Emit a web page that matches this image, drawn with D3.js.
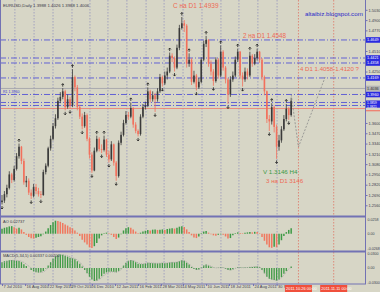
<!DOCTYPE html>
<html><head><meta charset="utf-8">
<script src="https://cdn.jsdelivr.net/npm/d3@7"></script>
<style>html,body{margin:0;padding:0;background:#d7d6c6;}svg{display:block;font-family:"Liberation Sans",Arial,sans-serif;}</style>
</head><body><svg id="c" width="380" height="292"></svg>
<script>
// ---- price bars (x1e4), one bar ~ 3 trading days ----
const opens=[12600,12620,12700,12780,12950,12880,13020,13180,13300,13120,12850,12870,12720,12680,12790,12740,12700,12690,12980,13060,13280,13400,13560,13660,13880,13930,14000,13800,13900,13820,14180,14050,13800,13680,13560,13700,13400,13200,13000,13250,13400,13270,13260,13390,13200,13140,13330,13100,12930,13350,13450,13600,13700,13680,13790,13580,13500,13460,13680,13800,13820,14000,13900,13950,13900,14000,14180,14100,14200,14250,14450,14420,14300,14550,14800,14860,14830,14350,14400,14120,14200,14050,14120,14400,14600,14650,14350,14250,14130,14400,14200,14500,14300,14150,13960,14150,14200,14400,14500,14200,14150,14250,14200,14450,14350,14420,14500,14400,14180,14000,13650,13620,13800,13550,13300,13380,13520,13650,13780,13700];
const closes=[12620,12700,12780,12950,12880,13020,13180,13300,13120,12850,12870,12720,12680,12790,12740,12700,12690,12980,13060,13280,13400,13560,13660,13880,13930,14000,13800,13900,13820,14180,14050,13800,13680,13560,13700,13400,13200,13000,13250,13400,13270,13260,13390,13200,13140,13330,13100,12930,13350,13450,13600,13700,13680,13790,13580,13500,13460,13680,13800,13820,14000,13900,13950,13900,14000,14180,14100,14200,14250,14450,14420,14300,14550,14800,14860,14830,14350,14400,14120,14200,14050,14120,14400,14600,14650,14350,14250,14130,14400,14200,14500,14300,14150,13960,14150,14200,14400,14500,14200,14150,14250,14200,14450,14350,14420,14500,14400,14180,14000,13650,13620,13800,13550,13300,13380,13520,13650,13780,13700,13880];
const highs=[12690,12740,12820,12990,12970,13060,13220,13340,13310,13150,12930,12900,12760,12830,12830,12780,12740,13010,13090,13300,13440,13600,13710,13920,13990,14040,14020,13960,13930,14280,14200,14080,13830,13720,13740,13720,13420,13230,13290,13440,13420,13330,13440,13400,13250,13370,13340,13120,13380,13490,13640,13750,13740,13860,13800,13610,13520,13710,13840,13870,14050,14020,14000,13980,14040,14220,14200,14250,14300,14490,14480,14440,14590,14840,14939,14900,14850,14480,14420,14260,14220,14170,14430,14640,14700,14660,14390,14280,14430,14420,14580,14520,14320,14170,14190,14250,14440,14540,14510,14240,14300,14290,14500,14470,14470,14540,14510,14420,14200,14010,13700,13850,13820,13580,13450,13560,13700,13840,13800,13920];
const lows=[12570,12590,12660,12760,12840,12860,13000,13150,13080,12820,12790,12690,12640,12660,12700,12670,12650,12680,12950,13040,13250,13380,13530,13640,13850,13900,13760,13780,13780,13800,14000,13760,13650,13520,13540,13370,13150,12970,12990,13230,13240,13220,13240,13170,13100,13120,13060,12870,12910,13320,13430,13580,13640,13660,13540,13470,13430,13440,13660,13770,13800,13860,13870,13740,13870,13980,14060,14080,14150,14230,14370,14250,14280,14520,14780,14750,14300,14310,14080,14100,14010,14030,14100,14380,14560,14310,14200,14070,14110,14160,14180,14260,14100,13840,13930,14120,14180,14370,14160,14060,14120,14150,14180,14310,14330,14390,14360,14140,13950,13600,13500,13580,13480,13146,13250,13350,13500,13620,13640,13680];
// fractal markers (bar indices)
const upFractals=[7,25,29,39,42,53,60,69,74,77,84,90,97,102,105,111,117];
const downFractals=[0,12,16,26,28,33,37,41,44,47,56,63,66,71,80,87,93,99,110,113,118];
// Awesome Oscillator (x1e4)
const aoValues=[90,110,120,135,140,120,95,110,80,30,-20,-60,-85,-90,-75,-60,-45,-10,40,100,160,210,240,235,220,200,170,150,120,100,60,20,-40,-110,-160,-200,-250,-265,-230,-170,-90,-30,10,20,10,-20,-60,-95,-70,-10,60,100,120,110,80,40,10,20,40,55,70,60,75,80,70,75,80,70,85,95,100,95,110,130,140,125,80,30,-30,-70,-80,-50,10,40,50,20,-10,-30,-35,-20,-10,-20,-50,-90,-80,-30,10,25,15,10,20,25,30,25,35,30,10,-60,-130,-200,-250,-260,-240,-250,-200,-120,-40,30,70,100];
// MACD histogram and signal (x1e4)
const macdValues=[120,140,150,160,165,160,150,145,120,80,40,0,-40,-70,-90,-95,-90,-60,-10,50,120,190,240,270,280,275,255,235,210,200,180,140,90,30,-40,-110,-180,-240,-270,-260,-220,-170,-120,-90,-80,-70,-80,-90,-60,-10,50,110,150,165,150,120,90,80,85,95,110,105,100,100,95,100,105,100,105,115,120,115,125,140,160,150,110,70,20,-20,-40,-30,10,50,70,50,25,5,0,5,15,5,-15,-40,-45,-25,0,15,10,5,10,10,20,20,25,30,15,-40,-110,-180,-220,-240,-250,-260,-240,-190,-120,-60,0,30];
const signalValues=[100,115,130,145,155,160,158,152,140,115,80,40,0,-35,-65,-85,-90,-80,-50,0,60,130,190,235,260,272,265,250,230,212,195,165,120,65,0,-70,-140,-200,-245,-260,-240,-200,-150,-110,-90,-78,-78,-85,-72,-35,20,80,130,155,155,135,105,88,85,92,105,106,102,100,97,99,103,101,104,112,118,116,122,135,152,152,122,85,35,-5,-30,-30,-5,35,60,55,35,12,3,4,12,8,-8,-30,-42,-32,-8,10,10,6,8,10,17,19,23,28,20,-20,-85,-155,-205,-230,-245,-255,-245,-205,-145,-80,-20,15];
// axis labels
const dateLabels=["7 Jul 2010","16 Aug 2010","22 Sep 2010","29 Oct 2010","6 Dec 2010","12 Jan 2011","16 Feb 2011","28 Mar 2011","4 May 2011","10 Jun 2011","18 Jul 2011","24 Aug 2011","30 Sep 2011"];
const dateBars=[0,9.5,19,28,37,46.5,56,65.4,74.5,84,93.4,103.3,113];
const gridBars=[5.3,13.2,21,28.8,36.2,43.6,51.4,59.3,66.7,74.5,82.3,90.1,97.5,105.3,113.2];
const priceTicks=[1.5030,1.4900,1.4770,1.4640,1.4510,1.4380,1.4250,1.4120,1.3990,1.3860,1.3730,1.3600,1.3470,1.3340,1.3210,1.3080,1.2950,1.2820,1.2690,1.2560];
// horizontal price levels
const blueLevels=[1.4649,1.4421,1.4358,1.4169,1.3960];
const bluePair=[1.3859,1.3821];
const greyLevel=1.4036;
const redLevel=1.3783;
// projection path & future time markers
const projBars=[119,122,133];
const projPrices=[1.3960,1.3297,1.4181];
const futureBars=[122,136.5];
const futureLabels=["2011.10.26 00:00","2011.11.11 00:00"];

const svg=d3.select("#c");
const x=d3.scaleLinear().domain([0,150]).range([2,366.5]);
const y=d3.scaleLinear().domain([1.2450,1.5154]).range([214,0]);
const yAO=d3.scaleLinear().domain([-0.0300,0.0290]).range([250,218]);
const yM=d3.scaleLinear().domain([-0.0310,0.0310]).range([283,253]);
const AX="#7272b4", BULL="#3a3a3a", BEAR="#f2705c", GREEN="#3f9a45", RED="#f0785e";
const f4=d3.format(".4f");

svg.append("rect").attr("width",380).attr("height",292).attr("fill","#d7d6c6");
const defs=svg.append("defs");
defs.append("clipPath").attr("id","cm").append("rect").attr("x",0).attr("y",0).attr("width",365).attr("height",215);
defs.append("clipPath").attr("id","cd").append("rect").attr("x",0).attr("y",284).attr("width",x(futureBars[0])-13.5).attr("height",8);

// vertical grid
svg.append("g").selectAll("line").data(gridBars).join("line")
  .attr("x1",d=>x(d)).attr("x2",d=>x(d)).attr("y1",0).attr("y2",284)
  .attr("stroke","#8c8cbc").attr("stroke-width",0.7).attr("stroke-dasharray","1.5,1.5");
// future red dotted lines
svg.append("g").selectAll("line").data(futureBars).join("line")
  .attr("x1",d=>x(d)).attr("x2",d=>x(d)).attr("y1",0).attr("y2",284)
  .attr("stroke","#e06a5a").attr("stroke-width",0.7).attr("stroke-dasharray","1.5,1.5");

const main=svg.append("g").attr("clip-path","url(#cm)");
main.selectAll("line.bl").data(blueLevels.concat(bluePair)).join("line").attr("class","bl")
  .attr("x1",0).attr("x2",365).attr("y1",d=>y(d)).attr("y2",d=>y(d))
  .attr("stroke","#4444d8").attr("stroke-width",0.8).attr("stroke-dasharray","6,2,1,2");
main.append("line").attr("x1",0).attr("x2",365).attr("y1",y(greyLevel)).attr("y2",y(greyLevel))
  .attr("stroke","#a0a0a8").attr("stroke-width",0.8);
main.append("line").attr("x1",0).attr("x2",365).attr("y1",y(redLevel)).attr("y2",y(redLevel))
  .attr("stroke","#f07a6a").attr("stroke-width",0.8);

// candles
const idx=d3.range(closes.length);
const col=i=>closes[i]>=opens[i]?BULL:BEAR;
main.selectAll("line.w").data(idx).join("line").attr("class","w")
  .attr("x1",i=>x(i)).attr("x2",i=>x(i)).attr("y1",i=>y(highs[i]/1e4)).attr("y2",i=>y(lows[i]/1e4))
  .attr("stroke",col).attr("stroke-width",0.8);
main.selectAll("rect.b").data(idx).join("rect").attr("class","b")
  .attr("x",i=>x(i)-0.8).attr("width",1.6)
  .attr("y",i=>y(Math.max(opens[i],closes[i])/1e4))
  .attr("height",i=>Math.max(0.6,Math.abs(y(opens[i]/1e4)-y(closes[i]/1e4))))
  .attr("fill",col);
// fractals
main.selectAll("path.fu").data(upFractals).join("path").attr("class","fu")
  .attr("d",i=>{const cx=x(i),cy=y(highs[i]/1e4)-4.5;return `M${cx-1.3},${cy+1.4}L${cx},${cy}L${cx+1.3},${cy+1.4}M${cx},${cy}L${cx},${cy+3}`;})
  .attr("stroke","#202020").attr("stroke-width",0.8).attr("fill","none");
main.selectAll("path.fd").data(downFractals).join("path").attr("class","fd")
  .attr("d",i=>{const cx=x(i),cy=y(lows[i]/1e4)+4.5;return `M${cx-1.3},${cy-1.4}L${cx},${cy}L${cx+1.3},${cy-1.4}M${cx},${cy}L${cx},${cy-3}`;})
  .attr("stroke","#202020").attr("stroke-width",0.8).attr("fill","none");
// projection
main.append("path").attr("d",d3.line().x((d,k)=>x(projBars[k])).y(d=>y(d))(projPrices))
  .attr("fill","none").attr("stroke","#8a8a8a").attr("stroke-width",0.8).attr("stroke-dasharray","2,1.5");

// annotations
const T=(tx,ty,s,fs,c)=>svg.append("text").attr("x",tx).attr("y",ty).attr("font-size",fs).attr("fill",c).text(s);
T(3,6.5,"EURUSD,Daily  1.3988 1.4026 1.3988 1.4006",4.3,"#383848");
T(173,7.5,"C на D1 1.4939",6.5,"#ee6a55");
T(305,15.5,"altaibiz.blogspot.com",6.2,"#2a2ac8");
T(243,37.5,"2 на D1 1.4548",6.3,"#ee6a55");
T(300,71,"4 D1 1.4058-1.4120 ?",6.1,"#ee6a55");
T(263,173.5,"V 1.3146 Н4",6.2,"#3a9a45");
T(266,182.5,"3 на D1 3146",6.2,"#ee6a55");
T(3,93.2,"R1 1.3960",3.6,"#3a3ad0");

// panel frames
svg.append("line").attr("x1",0).attr("x2",365).attr("y1",216.5).attr("y2",216.5).attr("stroke",AX).attr("stroke-width",2);
svg.append("line").attr("x1",0).attr("x2",365).attr("y1",251.5).attr("y2",251.5).attr("stroke",AX).attr("stroke-width",2);
svg.append("line").attr("x1",0).attr("x2",366).attr("y1",284).attr("y2",284).attr("stroke",AX).attr("stroke-width",1);
svg.append("line").attr("x1",365.5).attr("x2",365.5).attr("y1",0).attr("y2",284).attr("stroke",AX).attr("stroke-width",1);
svg.append("line").attr("x1",0.5).attr("x2",0.5).attr("y1",0).attr("y2",284).attr("stroke",AX).attr("stroke-width",1);

// AO
svg.append("g").selectAll("line").data(idx).join("line")
  .attr("x1",i=>x(i)).attr("x2",i=>x(i)).attr("y1",yAO(0)).attr("y2",i=>yAO(aoValues[i]/1e4))
  .attr("stroke",i=>(i===0||aoValues[i]>=aoValues[i-1])?GREEN:RED).attr("stroke-width",1.5);
T(3,222.5,"AO 0.02737",4,"#383848");
// MACD
svg.append("g").selectAll("line").data(idx).join("line")
  .attr("x1",i=>x(i)).attr("x2",i=>x(i)).attr("y1",yM(0)).attr("y2",i=>yM(macdValues[i]/1e4))
  .attr("stroke",GREEN).attr("stroke-width",1.3);
svg.append("path").attr("d",d3.line().x((d,i)=>x(i)).y(d=>yM(d/1e4))(signalValues))
  .attr("fill","none").attr("stroke","#9a9a9a").attr("stroke-width",0.8).attr("stroke-dasharray","1,1");
T(3,257,"MACD(5,34,5) 0.00337 0.00202",4,"#383848");

// right price axis (labels hidden under level boxes are skipped)
const levelYs=blueLevels.concat(bluePair,[greyLevel,redLevel]).map(v=>y(v));
const visTicks=priceTicks.filter(t=>levelYs.every(ly=>Math.abs(y(t)-ly)>4.5));
const ra=svg.append("g").attr("transform","translate(365.5,0)")
  .call(d3.axisRight(y).tickValues(visTicks).tickFormat(f4).tickSize(2));
ra.select(".domain").remove();
ra.selectAll("line").attr("stroke",AX);
ra.selectAll("text").attr("font-size",4).attr("fill","#404050").attr("x",3).attr("font-family","Liberation Sans,Arial");
// indicator axis labels
const ind=[[yAO(0.02575),"0.0258"],[yAO(0),"0.00"],[yAO(-0.02681),"-0.0268"],[yM(0.0300),"0.0300"],[yM(0),"0.00"],[yM(-0.0300),"-0.0300"]];
ind.forEach(d=>T(367.5,d[0]+1.4,d[1],3.6,"#404050"));
// level price boxes on the right axis
const bg=svg.append("g");
const box=(v,fill,tc)=>{
  bg.append("rect").attr("x",366).attr("y",y(v)-2.8).attr("width",14).attr("height",5.6).attr("fill",fill);
  bg.append("text").attr("x",367).attr("y",y(v)+1.4).attr("font-size",3.8).attr("fill",tc).text(f4(v));
};
box(greyLevel,"#b4b4b4","#303030");
blueLevels.forEach(v=>box(v,"#2a2ae0","#ffffff"));
// paired box (two close levels)
bg.append("rect").attr("x",366).attr("y",y(bluePair[0])-2).attr("width",14).attr("height",y(bluePair[1])-y(bluePair[0])+4.2).attr("fill","#2a2ae0");
bg.append("text").attr("x",367).attr("y",y(bluePair[0])+1.2).attr("font-size",3.2).attr("fill","#ffffff").text(f4(bluePair[0]));
bg.append("text").attr("x",367).attr("y",y(bluePair[1])+2.1).attr("font-size",3.2).attr("fill","#ffffff").text(f4(bluePair[1]));
bg.append("rect").attr("x",366).attr("y",y(redLevel)+1.6).attr("width",14).attr("height",1.2).attr("fill","#f07a6a");

// bottom time axis
const ba=svg.append("g").attr("transform","translate(0,284)")
  .call(d3.axisBottom(x).tickValues(dateBars).tickFormat((d,i)=>dateLabels[i]).tickSize(2));
ba.select(".domain").remove();
ba.selectAll("line").attr("stroke",AX);
ba.selectAll("text").attr("font-size",4).attr("fill","#404050").attr("text-anchor","start").attr("dx",1).attr("dy",-1.5).attr("font-family","Liberation Sans,Arial");
ba.selectAll(".tick").filter((d,i)=>i===dateLabels.length-1).select("text").text("30 Sep");
futureBars.forEach((b,k)=>{
  svg.append("rect").attr("x",x(b)-13.5).attr("y",285).attr("width",27).attr("height",7).attr("fill","#f0503c");
  T(x(b)-12.5,290.3,futureLabels[k],4,"#ffffff");
});
</script></body></html>
